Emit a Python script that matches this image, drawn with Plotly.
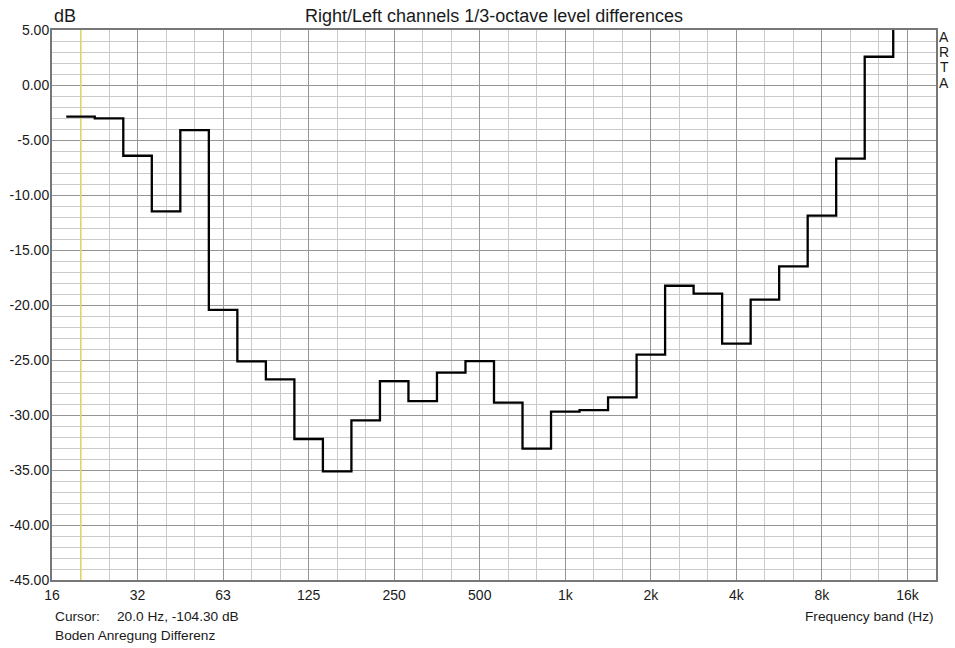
import numpy as np
import plotly.graph_objects as go

# 1/3-octave band centres (nominal, Hz) and Right/Left level difference (dB)
band_labels = ["20", "25", "31.5", "40", "50", "63", "80", "100", "125", "160",
               "200", "250", "315", "400", "500", "630", "800", "1k", "1.25k", "1.6k",
               "2k", "2.5k", "3.15k", "4k", "5k", "6.3k", "8k", "10k", "12.5k", "16k"]
band_nominal = [20, 25, 31.5, 40, 50, 63, 80, 100, 125, 160,
                200, 250, 315, 400, 500, 630, 800, 1000, 1250, 1600,
                2000, 2500, 3150, 4000, 5000, 6300, 8000, 10000, 12500, 16000]
level_diff = [-2.88, -3.03, -6.43, -11.49, -4.10, -20.45, -25.13, -26.76, -32.18, -35.13,
              -30.49, -26.92, -28.73, -26.15, -25.10, -28.88, -33.06, -29.70, -29.55, -28.40,
              -24.52, -18.25, -18.97, -23.52, -19.52, -16.49, -11.88, -6.70, 2.57, 8.00]

# octave tick labels along the frequency axis
octave_labels = ["16", "32", "63", "125", "250", "500", "1k", "2k", "4k", "8k", "16k"]
y_ticks = list(range(5, -50, -5))

cursor_freq = 20.0

# band index on the base-10 1/3-octave series, edges half a band either side
band_idx = np.round(10 * np.log10(band_nominal))
lower_edges = 10 ** ((band_idx - 0.5) / 10)
upper_last = 10 ** ((band_idx[-1] + 0.5) / 10)
step_x = list(lower_edges) + [upper_last]
step_y = list(level_diff) + [level_diff[-1]]

octave_vals = [10 ** (1.2 + 0.3 * i) for i in range(len(octave_labels))]
third_vals = [10 ** (1.2 + 0.1 * i) for i in range(32)]
minor_vals = [v for i, v in enumerate(third_vals) if i % 3 != 0]

FONT = "Liberation Sans, Arial, sans-serif"
TXT = "#1a1a1a"

fig = go.Figure()

# cursor marker
fig.add_trace(go.Scatter(
    x=[cursor_freq, cursor_freq], y=[-45, 5], mode="lines",
    line=dict(color="#ddd66a", width=1.6), hoverinfo="skip", showlegend=False))

# step curve of the band levels
fig.add_trace(go.Scatter(
    x=step_x, y=step_y, mode="lines", line_shape="hv",
    line=dict(color="#000000", width=2.3),
    customdata=band_labels + [band_labels[-1]],
    hovertemplate="%{customdata} Hz: %{y:.2f} dB<extra></extra>",
    showlegend=False))

W, H = 955, 648
L, R, T, B = 52, 19, 30, 68
pw, ph = W - L - R, H - T - B


def px(x):
    return (x - L) / pw


def py(y):
    return (H - B - y) / ph


fig.update_layout(
    width=W, height=H,
    margin=dict(l=L, r=R, t=T, b=B, autoexpand=False),
    paper_bgcolor="white", plot_bgcolor="white",
    font=dict(family=FONT, size=14, color=TXT),
    title=dict(text="Right/Left channels 1/3-octave level differences",
               x=px(494), xref="paper", xanchor="center",
               y=1 - 16 / H, yanchor="middle",
               font=dict(family=FONT, size=18, color=TXT)),
    xaxis=dict(
        type="log", range=[1.2, 4.3], automargin=False,
        tickvals=octave_vals, ticktext=octave_labels, ticks="",
        showgrid=True, gridcolor="#959595", gridwidth=1,
        minor=dict(tickvals=minor_vals, showgrid=True, gridcolor="#cacaca",
                   gridwidth=1, ticks=""),
        showline=True, mirror=True, linecolor="#777777", linewidth=2,
        zeroline=False, tickfont=dict(size=14), ticklabelstandoff=1),
    yaxis=dict(
        range=[-45, 5], automargin=False,
        tickvals=y_ticks, ticktext=[f"{v:.2f}" for v in y_ticks], ticks="",
        showgrid=True, gridcolor="#959595", gridwidth=1,
        minor=dict(dtick=1, showgrid=True, gridcolor="#cacaca", gridwidth=1, ticks=""),
        showline=True, mirror=True, linecolor="#777777", linewidth=2,
        zeroline=False, tickfont=dict(size=14), ticklabelstandoff=-2),
)

ann = dict(xref="paper", yref="paper", showarrow=False)
small = dict(family=FONT, size=13.7, color=TXT)
fig.add_annotation(text="dB", x=px(52), y=py(16), xanchor="left", yanchor="middle",
                   font=dict(family=FONT, size=18, color=TXT), **ann)
for letter, yy in zip("ARTA", [37, 52, 67, 83]):
    fig.add_annotation(text=letter, x=px(944), y=py(yy), xanchor="center",
                       yanchor="middle", font=dict(family=FONT, size=14, color=TXT),
                       height=14, **ann)
fig.add_annotation(text="Cursor:", x=px(53), y=py(616), xanchor="left",
                   yanchor="middle", font=small, **ann)
fig.add_annotation(text="20.0 Hz, -104.30 dB", x=px(115), y=py(616), xanchor="left",
                   yanchor="middle", font=small, **ann)
fig.add_annotation(text="Boden Anregung Differenz", x=px(53), y=py(635),
                   xanchor="left", yanchor="middle", font=small, **ann)
fig.add_annotation(text="Frequency band (Hz)", x=px(936), y=py(616),
                   xanchor="right", yanchor="middle", font=small, **ann)

fig.write_html("out.html")
